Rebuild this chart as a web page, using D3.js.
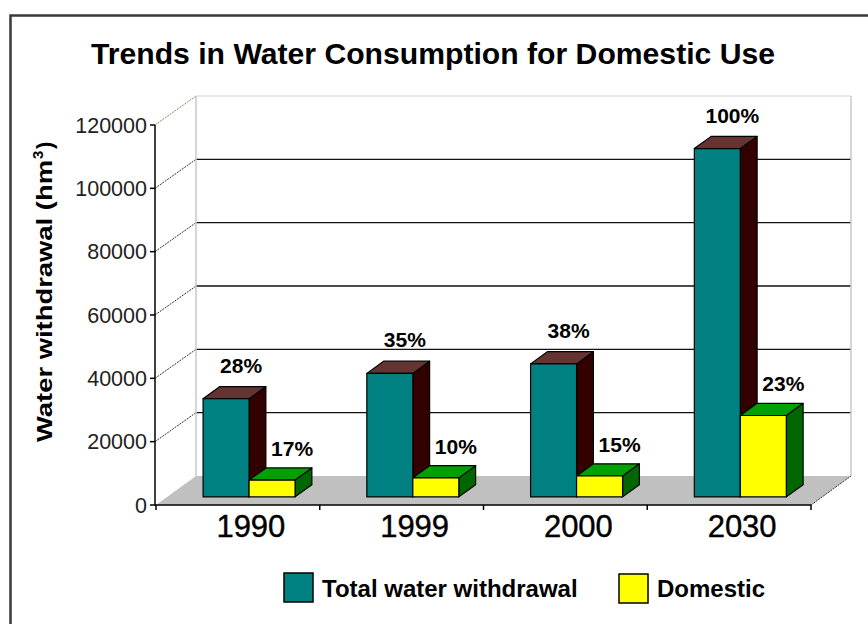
<!DOCTYPE html>
<html>
<head>
<meta charset="utf-8">
<script src="https://cdn.jsdelivr.net/npm/d3@7/dist/d3.min.js"></script>
<style>
  html, body { margin: 0; padding: 0; background: #ffffff; }
  svg { display: block; }
  text { font-family: Arial, "Liberation Sans", sans-serif; }
</style>
</head>
<body>
<svg id="chart" width="868" height="624"></svg>
<script>
// Water withdrawal per year (hm3)
const years = ["1990", "1999", "2000", "2030"];
const seriesNames = ["Total water withdrawal", "Domestic"];
const totalValues = [31000, 39000, 42000, 110000];
const domesticValues = [5300, 6000, 6600, 25700];
const totalLabels = ["28%", "35%", "38%", "100%"];
const domesticLabels = ["17%", "10%", "15%", "23%"];
const yTicks = [0, 20000, 40000, 60000, 80000, 100000, 120000];

(function draw() {
  const svg = d3.select("#chart");

  // 3D box: front plane of the plot and the depth vector to the back wall
  const plotLeft = 156, plotRight = 811, plotBottom = 505, plotTop = 125;
  const depth = { dx: 40, dy: -29 };
  const barFront = 0.28, barDepth = 0.42;

  const y = d3.scaleLinear().domain([0, 120000]).range([plotBottom, plotTop]);
  const x = d3.scaleBand().domain(years).range([plotLeft, plotRight]).paddingInner(0).paddingOuter(0);
  const xs = d3.scaleBand().domain(seriesNames).range([0, x.bandwidth()]).paddingInner(0).paddingOuter(0.78);

  const shift = (px, py, f) => [px + depth.dx * f, py + depth.dy * f];

  // outer frame
  svg.append("rect")
    .attr("x", 10.5).attr("y", 15.5).attr("width", 900).attr("height", 700)
    .attr("fill", "none").attr("stroke", "#3a3a3a").attr("stroke-width", 2.5);

  // title
  svg.append("text")
    .attr("x", 433).attr("y", 64)
    .attr("text-anchor", "middle")
    .attr("font-size", 30).attr("font-weight", "bold")
    .attr("textLength", 684).attr("lengthAdjust", "spacingAndGlyphs")
    .attr("fill", "#000")
    .text("Trends in Water Consumption for Domestic Use");

  // back wall
  const wallTop = shift(plotLeft, y(120000), 1)[1];
  const wallBottom = shift(plotLeft, y(0), 1)[1];
  const wallLeft = plotLeft + depth.dx, wallRight = plotRight + depth.dx;
  svg.append("rect")
    .attr("x", wallLeft).attr("y", wallTop)
    .attr("width", wallRight - wallLeft).attr("height", wallBottom - wallTop)
    .attr("fill", "#ffffff");

  // gridlines on the back wall and their diagonals back to the axis
  const grid = svg.append("g");
  yTicks.filter(v => v > 0).forEach(v => {
    const [bx, by] = shift(plotLeft, y(v), 1);
    const isTop = v === 120000;
    grid.append("line")
      .attr("x1", bx).attr("y1", by).attr("x2", wallRight).attr("y2", by)
      .attr("stroke", isTop ? "#d4d4d4" : "#111").attr("stroke-width", isTop ? 1 : 1.3);
    grid.append("line")
      .attr("x1", plotLeft - 1).attr("y1", y(v)).attr("x2", bx).attr("y2", by)
      .attr("stroke", isTop ? "#8c8c5c" : "#333").attr("stroke-width", 1)
      .attr("stroke-dasharray", "2,1");
  });
  // wall edges
  grid.append("line").attr("x1", wallLeft).attr("y1", wallTop).attr("x2", wallLeft).attr("y2", wallBottom)
    .attr("stroke", "#c8c8c8").attr("stroke-width", 1.5);
  grid.append("line").attr("x1", wallRight).attr("y1", wallTop).attr("x2", wallRight).attr("y2", wallBottom)
    .attr("stroke", "#c8c8c8").attr("stroke-width", 1.5);

  // floor
  const floorPts = [[plotLeft, plotBottom], [plotRight, plotBottom], shift(plotRight, plotBottom, 1), shift(plotLeft, plotBottom, 1)];
  svg.append("polygon")
    .attr("points", floorPts.map(p => p.join(",")).join(" "))
    .attr("fill", "#c0c0c0");
  svg.append("line")
    .attr("x1", plotRight).attr("y1", plotBottom)
    .attr("x2", shift(plotRight, plotBottom, 1)[0]).attr("y2", shift(plotRight, plotBottom, 1)[1])
    .attr("stroke", "#333").attr("stroke-width", 1).attr("stroke-dasharray", "2,1");

  // bars
  const faces = {
    "Total water withdrawal": { front: "#008080", top: "#663333", side: "#330000" },
    "Domestic": { front: "#ffff00", top: "#00a000", side: "#006600" }
  };
  const valuesBySeries = { "Total water withdrawal": totalValues, "Domestic": domesticValues };

  const bars = svg.append("g");
  years.forEach((yr, i) => {
    seriesNames.forEach(s => {
      const v = valuesBySeries[s][i];
      const c = faces[s];
      const [fx0, fyTop] = shift(x(yr) + xs(s), y(v), barFront);
      const fyBot = shift(0, y(0), barFront)[1];
      const fx1 = fx0 + xs.bandwidth();
      const ddx = depth.dx * barDepth, ddy = depth.dy * barDepth;
      const g = bars.append("g").attr("stroke", "#000").attr("stroke-width", 1.2).attr("stroke-linejoin", "round");
      // right side face
      g.append("polygon")
        .attr("points", [[fx1, fyTop], [fx1 + ddx, fyTop + ddy], [fx1 + ddx, fyBot + ddy], [fx1, fyBot]].map(p => p.join(",")).join(" "))
        .attr("fill", c.side);
      // top face
      g.append("polygon")
        .attr("points", [[fx0, fyTop], [fx0 + ddx, fyTop + ddy], [fx1 + ddx, fyTop + ddy], [fx1, fyTop]].map(p => p.join(",")).join(" "))
        .attr("fill", c.top);
      // front face
      g.append("rect")
        .attr("x", fx0).attr("y", fyTop).attr("width", fx1 - fx0).attr("height", fyBot - fyTop)
        .attr("fill", c.front);
    });
  });

  // percentage labels
  const labels = svg.append("g")
    .attr("font-size", 21).attr("font-weight", "bold").attr("text-anchor", "middle").attr("fill", "#000");
  years.forEach((yr, i) => {
    const s0 = seriesNames[0], s1 = seriesNames[1];
    const cx0 = x(yr) + xs(s0) + xs.bandwidth() / 2 + depth.dx * barFront;
    const cx1 = x(yr) + xs(s1) + xs.bandwidth() / 2 + depth.dx * barFront;
    const ty0 = y(totalValues[i]) + depth.dy * barFront;
    const ty1 = y(domesticValues[i]) + depth.dy * barFront;
    labels.append("text").attr("x", cx0 + 15).attr("y", ty0 - 26).text(totalLabels[i]);
    labels.append("text").attr("x", cx1 + 20).attr("y", ty1 - 24).text(domesticLabels[i]);
  });

  // y axis
  const yAxisG = svg.append("g");
  yAxisG.append("line").attr("x1", plotLeft - 1).attr("y1", y(120000)).attr("x2", plotLeft - 1).attr("y2", plotBottom)
    .attr("stroke", "#000").attr("stroke-width", 1.5);
  yTicks.forEach(v => {
    yAxisG.append("line").attr("x1", plotLeft - 6).attr("x2", plotLeft - 1).attr("y1", y(v)).attr("y2", y(v))
      .attr("stroke", "#000").attr("stroke-width", 1.5);
    yAxisG.append("text")
      .attr("x", plotLeft - 9).attr("y", y(v) + 7.5)
      .attr("text-anchor", "end").attr("font-size", 21.5).attr("fill", "#222")
      .text(v);
  });

  // x axis (front edge of the floor)
  const xAxisG = svg.append("g");
  xAxisG.append("line").attr("x1", plotLeft - 1).attr("x2", plotRight).attr("y1", plotBottom).attr("y2", plotBottom)
    .attr("stroke", "#000").attr("stroke-width", 1.5);
  [plotLeft, ...years.map(yr => x(yr) + x.bandwidth())].forEach(px => {
    xAxisG.append("line").attr("x1", px).attr("x2", px).attr("y1", plotBottom).attr("y2", plotBottom + 5)
      .attr("stroke", "#000").attr("stroke-width", 1.5);
  });
  years.forEach(yr => {
    xAxisG.append("text")
      .attr("x", x(yr) + x.bandwidth() / 2 + 13).attr("y", 537)
      .attr("text-anchor", "middle").attr("font-size", 31).attr("fill", "#000")
      .attr("stroke", "#000").attr("stroke-width", 0.4)
      .text(yr);
  });

  // y axis title
  const yTitle = svg.append("g").attr("transform", "translate(52,442) rotate(-90)");
  yTitle.append("text")
    .attr("x", 0).attr("y", 0)
    .attr("font-size", 22).attr("font-weight", "bold").attr("fill", "#000")
    .attr("textLength", 282).attr("lengthAdjust", "spacingAndGlyphs")
    .text("Water withdrawal (hm");
  yTitle.append("text")
    .attr("x", 283).attr("y", -9)
    .attr("font-size", 15).attr("font-weight", "bold").attr("fill", "#000")
    .text("3");
  yTitle.append("text")
    .attr("x", 293).attr("y", 0)
    .attr("font-size", 22).attr("font-weight", "bold").attr("fill", "#000")
    .text(")");

  // legend
  const legend = svg.append("g");
  const legendItems = [
    { name: seriesNames[0], color: faces[seriesNames[0]].front, bx: 284, by: 573, tx: 322 },
    { name: seriesNames[1], color: faces[seriesNames[1]].front, bx: 619, by: 574, tx: 657 }
  ];
  legendItems.forEach(d => {
    legend.append("rect")
      .attr("x", d.bx).attr("y", d.by).attr("width", 29).attr("height", 29)
      .attr("fill", d.color).attr("stroke", "#000").attr("stroke-width", 1.5);
    legend.append("text")
      .attr("x", d.tx).attr("y", 597)
      .attr("font-size", 24).attr("font-weight", "bold").attr("fill", "#000")
      .text(d.name);
  });
})();
</script>
</body>
</html>
